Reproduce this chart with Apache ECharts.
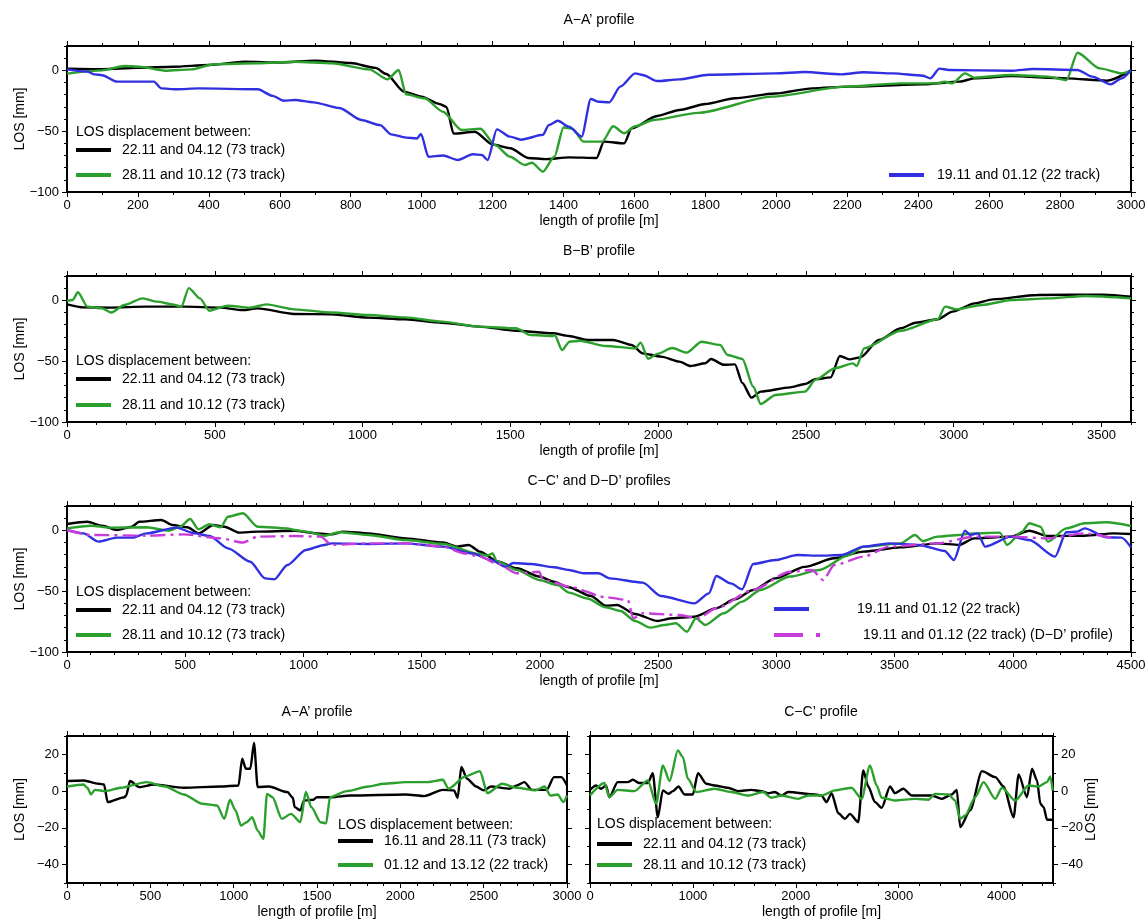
<!DOCTYPE html>
<html><head><meta charset="utf-8">
<script src="https://cdn.jsdelivr.net/npm/echarts@6/dist/echarts.min.js"></script>
<style>html,body{margin:0;padding:0;background:#fff}#c{width:1146px;height:922px}</style>
</head><body><div id="c"></div>
<script>
// ---------- tick labels ----------
const xTicksAA = [0,200,400,600,800,1000,1200,1400,1600,1800,2000,2200,2400,2600,2800,3000];
const xTicksBB = [0,500,1000,1500,2000,2500,3000,3500];
const xTicksCC = [0,500,1000,1500,2000,2500,3000,3500,4000,4500];
const xTicksAA2 = [0,500,1000,1500,2000,2500,3000];
const xTicksCC2 = [0,1000,2000,3000,4000];
const yTicksTop = [-100,-50,0];
const yTicksBot = [-40,-20,0,20];

// ---------- series names ----------
const N_BLACK = '22.11 and 04.12 (73 track)';
const N_GREEN = '28.11 and 10.12 (73 track)';
const N_BLUE = '19.11 and 01.12 (22 track)';
const N_MAG = '19.11 and 01.12 (22 track) (D\u2212D\u2019 profile)';
const N_BLACK4 = '16.11 and 28.11 (73 track)';
const N_GREEN4 = '01.12 and 13.12 (22 track)';

// ---------- A-A' profile ----------
const aaBlack = [[0,1.4],[100,1],[200,2],[300,3],[400,4.4],[500,7],[600,6.5],[700,8],[800,6],[870,2],[900,-3],[950,-17.5],[1000,-21.6],[1050,-27.7],[1070,-30],[1090,-52],[1150,-50.5],[1200,-61],[1250,-64],[1300,-72],[1350,-73],[1415,-71.5],[1493,-72],[1514,-58.6],[1571,-60],[1592,-47.7],[1664,-37.5],[1727,-32.6],[1800,-27.7],[1883,-23],[1997,-19],[2101,-14.8],[2205,-13.4],[2413,-11.5],[2517,-9.3],[2558,-6.6],[2662,-4.7],[2818,-6.6],[2932,-8.5],[3000,0]];
const aaGreen = [[0,-2.7],[99,0],[162,3.6],[204,3],[277,-0.3],[350,0.8],[413,5],[538,5.8],[643,7],[747,5.8],[852,0.8],[904,-7.4],[935,0.3],[956,-19.7],[1008,-23],[1060,-34],[1112,-49],[1166,-48],[1207,-61.4],[1249,-71],[1291,-77.8],[1311,-76],[1342,-83.3],[1374,-71],[1400,-47],[1425,-48],[1456,-58.6],[1509,-58.6],[1540,-46],[1571,-51.7],[1602,-46],[1654,-40.8],[1779,-35],[1987,-21.6],[2195,-13.4],[2350,-10.7],[2454,-10.7],[2475,-9.3],[2496,-10.7],[2532,-2.5],[2558,-6],[2662,-3.8],[2766,-5.2],[2818,-8],[2849,14.5],[2912,1.6],[2974,-2.5],[3000,-0.3]];
const aaBlue = [[0,0.8],[57,-1],[78,-3.3],[99,-4],[141,-9.3],[245,-9.3],[266,-14.8],[308,-15.6],[371,-14.8],[538,-15.6],[580,-21],[611,-25],[643,-24.4],[695,-26.3],[768,-31],[830,-40.8],[883,-45],[914,-52.6],[956,-55.3],[987,-56],[998,-52.3],[1019,-71],[1060,-70],[1102,-73.7],[1144,-69],[1170,-69.6],[1186,-73.7],[1212,-48.5],[1249,-54.5],[1280,-57],[1342,-53],[1358,-45],[1384,-41.4],[1415,-46.3],[1451,-54.5],[1477,-23.6],[1498,-25.8],[1529,-26.3],[1560,-13.4],[1602,-2.5],[1623,-3.8],[1664,-8.8],[1727,-7.4],[1810,-3.6],[1997,-2.5],[2080,-1.4],[2184,-3.3],[2247,-1.6],[2330,-2.5],[2413,-4.4],[2434,-6.6],[2460,1.4],[2486,0.3],[2662,-0.3],[2725,1.1],[2849,0.3],[2891,-5.2],[2943,-11.5],[2974,-6.6],[3000,0.3]];

// ---------- B-B' profile ----------
const bbBlack = [[0,-3.3],[56,-5.8],[144,-6],[269,-5.2],[394,-5.2],[519,-6],[594,-8],[644,-6.6],[769,-11.2],[894,-11.5],[1019,-14.2],[1144,-15.6],[1269,-18.4],[1394,-21.6],[1519,-25],[1644,-27],[1698,-29.3],[1760,-32.6],[1848,-32.6],[1910,-36.7],[1948,-43.6],[2010,-46.3],[2072,-50.4],[2110,-54],[2160,-51.7],[2179,-48.2],[2222,-53],[2260,-52.6],[2285,-68],[2316,-80],[2347,-75],[2447,-71.5],[2497,-68.8],[2534,-64.7],[2584,-63.3],[2615,-45.8],[2647,-48.5],[2684,-46.9],[2747,-32.6],[2821,-23],[2871,-18.4],[2946,-15.6],[2996,-9.3],[3071,-2.5],[3133,0.8],[3283,4.4],[3508,4.7],[3600,3]];
const bbGreen = [[0,-0.5],[19,0.3],[37,6.6],[69,-5.2],[119,-6.6],[150,-10],[194,-3.8],[256,1.6],[306,-1.1],[356,-3.3],[387,-5.2],[412,10],[450,1.6],[481,-8.5],[544,-4.4],[619,-6],[675,-3.3],[769,-7.4],[894,-10],[1019,-12],[1144,-14],[1269,-17.5],[1394,-21.6],[1519,-23],[1569,-28.5],[1644,-29.3],[1650,-28.5],[1675,-40.8],[1700,-34],[1735,-33.2],[1823,-37.5],[1923,-39.5],[1941,-34.8],[1966,-48],[1998,-44],[2047,-39.2],[2097,-43],[2147,-34],[2210,-36.7],[2235,-44.9],[2285,-48.2],[2322,-71],[2347,-85.2],[2397,-77.8],[2497,-75],[2534,-65],[2597,-56],[2659,-51.8],[2672,-54],[2697,-39.5],[2821,-25],[2946,-15.6],[2971,-5.2],[3009,-7.4],[3096,-3.8],[3196,0.3],[3321,1.6],[3446,3.6],[3600,1.6]];

// ---------- C-C' and D-D' profiles ----------
const ccBlack = [[0,5.2],[86,7],[149,3.8],[211,0.3],[274,3],[305,7],[399,8.5],[446,4.4],[509,2.5],[556,-2.5],[619,4.4],[666,3],[728,-1.9],[806,-1.1],[963,-0.3],[1057,-2.5],[1120,-3.3],[1167,-1.1],[1276,-2.5],[1433,-6.6],[1590,-10],[1652,-13.4],[1699,-12],[1746,-17.5],[1824,-25.8],[1903,-31.2],[1997,-38],[2059,-42.2],[2122,-46.8],[2216,-54],[2279,-62],[2326,-61.4],[2403,-68.8],[2497,-74.5],[2559,-72.3],[2653,-71],[2746,-64],[2824,-56.7],[2902,-49],[2995,-39.5],[3120,-30],[3245,-23],[3369,-17.5],[3525,-14],[3681,-10.7],[3774,-12],[3836,-6.6],[3992,-5.2],[4070,-0.3],[4148,-4.7],[4304,-4.4],[4428,-2.5],[4500,-3]];
const ccGreen = [[0,1.6],[102,3.8],[180,2.2],[337,2.5],[431,-0.3],[478,3],[521,9.3],[556,0.8],[603,5],[650,2.5],[681,11.2],[744,14],[806,3],[931,1.6],[963,0.3],[1010,-1.1],[1088,-4.4],[1151,-1.6],[1276,-3.8],[1433,-8],[1590,-11.2],[1746,-19.5],[1778,-20.8],[1800,-19],[1817,-25.2],[1903,-32.6],[1997,-40.8],[2075,-45],[2123,-51.2],[2201,-56],[2279,-63.3],[2341,-66.3],[2403,-74.5],[2466,-80],[2528,-77.8],[2575,-76.4],[2622,-83.3],[2660,-72.3],[2699,-77.8],[2777,-68.2],[2855,-58.6],[2933,-49],[3057,-38],[3182,-32.6],[3307,-20.3],[3369,-13.4],[3525,-10.7],[3587,-3.8],[3619,-8.8],[3681,-5.2],[3774,-3.8],[3836,-2.5],[3945,-1.9],[3976,-12],[4039,-1.1],[4070,5.8],[4117,3],[4148,-9.3],[4226,1.6],[4304,5.8],[4397,6.6],[4500,3.6]];
const ccBlue = [[0,0.3],[70,-2.5],[133,-9.3],[211,-6],[274,-6],[337,-2.5],[462,2.2],[540,-2.5],[603,-4.7],[681,-14.8],[775,-25.8],[838,-39.5],[877,-40.3],[932,-28.5],[1010,-16.2],[1088,-12],[1120,-10.7],[1276,-11.2],[1433,-10.7],[1590,-13.4],[1715,-19],[1793,-24.4],[1856,-30],[1887,-26.8],[1965,-27.7],[2059,-30.4],[2123,-32.6],[2185,-35.3],[2248,-35.3],[2295,-39.5],[2435,-43],[2512,-54],[2653,-60],[2715,-51.8],[2746,-37.5],[2808,-43.6],[2855,-48.5],[2902,-27.7],[2995,-24.4],[3089,-20.3],[3182,-20.8],[3276,-20.3],[3369,-13.4],[3478,-10.7],[3603,-12],[3712,-17],[3751,-24.4],[3798,-0.3],[3821,-3.8],[3852,-2.5],[3883,-13.4],[3992,-5.2],[4070,-8],[4179,-21.6],[4226,-1.6],[4273,-1.1],[4304,1.6],[4397,-5.8],[4460,-6],[4500,-14]];
const ddMagenta = [[0,0.3],[102,-3.8],[337,-4.4],[493,-3.3],[650,-6.6],[744,-10],[806,-5.2],[963,-4.7],[1073,-5.2],[1120,-12],[1276,-10.7],[1433,-10.7],[1590,-13.4],[1683,-19],[1746,-21.6],[1824,-27.7],[1903,-35.3],[1997,-34],[2012,-40.3],[2059,-43],[2123,-46.3],[2279,-55],[2372,-57.3],[2395,-72.3],[2435,-68.2],[2590,-69.6],[2668,-72.3],[2746,-64],[2902,-49],[3057,-34],[3151,-32.6],[3198,-40.8],[3245,-28.5],[3369,-21.6],[3478,-13.4],[3681,-10.7],[3836,-5.2],[3992,-5.2],[4148,-6.6],[4304,-2.5],[4428,-6.6]];

// ---------- bottom-left A-A' profile ----------
const a2Black = [[0,5.5],[100,5.8],[189,4],[222,3.6],[244,-6],[344,-3.3],[355,-2.4],[378,5.5],[433,2.2],[522,3.6],[700,1.8],[922,2.5],[1029,3.1],[1051,17.6],[1073,12.2],[1100,12.2],[1122,26.2],[1144,2.2],[1211,2.5],[1322,-0.5],[1355,-3.6],[1366,-8.7],[1400,-10.5],[1422,-5.1],[1478,-4.7],[1500,-3.3],[1589,-3.3],[1700,-2.4],[2033,-1.8],[2144,-2.7],[2255,0.7],[2322,0.4],[2344,-3.6],[2366,13.1],[2400,6.7],[2455,2.5],[2500,0.4],[2544,2.5],[2655,1.3],[2700,3.1],[2744,4.9],[2789,0.7],[2878,0.7],[2922,7.6],[2966,7.6],[3000,3.1]];
const a2Green = [[0,2.5],[100,3.6],[122,1.8],[144,-1.8],[167,0.7],[233,0],[322,1.8],[478,4.9],[589,2.5],[700,-1.8],[811,-6.9],[900,-7.8],[944,-15.1],[978,-4.7],[1011,-10.5],[1044,-18.7],[1078,-16.9],[1111,-14.2],[1144,-21.5],[1178,-26],[1200,-1.5],[1233,-3.3],[1289,-15.1],[1344,-12.4],[1400,-16.9],[1433,-0.5],[1466,-8.7],[1522,-16.9],[1555,-17.5],[1578,-3.3],[1678,0],[1811,2.5],[1900,4],[2033,4.9],[2167,4.9],[2255,6.2],[2289,1.3],[2389,8],[2478,10.9],[2522,-1.1],[2611,4],[2700,1.8],[2811,0.4],[2866,2.5],[2900,-2.4],[2944,-1.8],[2978,-6],[3000,-2.4]];

// ---------- bottom-right C-C' profile ----------
const c2Black = [[0,0.7],[58,3.1],[107,1.3],[156,3.1],[188,-3.3],[269,4.9],[367,4.9],[416,6.2],[481,4.4],[562,4.4],[610,9.8],[659,-14.2],[708,0.4],[763,-1.5],[805,0],[860,2.5],[919,-1.8],[1000,-1.8],[1049,9.8],[1130,4],[1211,3.1],[1341,1.8],[1438,0],[1568,0.7],[1666,0],[1731,-1.1],[1796,-0.5],[1861,-2.4],[1925,-0.5],[2185,-1.8],[2250,-2.4],[2299,-6],[2348,-1.1],[2413,-12],[2478,-15.1],[2526,-12.4],[2607,-16.9],[2656,11.3],[2705,2.5],[2770,-6],[2835,-9.1],[2916,2.5],[2964,-1.1],[3045,1.3],[3127,-2.4],[3322,-2.4],[3419,-4.2],[3516,-1.8],[3565,0.7],[3598,-19.6],[3695,-10.5],[3809,10.9],[3939,7.6],[4020,2.5],[4117,-14.2],[4166,9.1],[4247,-3.3],[4296,12.2],[4345,5.8],[4377,-6.9],[4409,-8.7],[4442,-15.6],[4490,-15.6]];
const c2Green = [[0,-2.4],[140,4.4],[188,-3.3],[269,0.7],[432,0],[562,5.8],[643,-6.9],[708,14],[773,5.5],[854,22.2],[903,18.5],[951,6.7],[1033,-0.5],[1211,1.3],[1373,-0.5],[1536,-2.4],[1682,-0.5],[1763,-3.6],[1861,-2.4],[2023,-4.2],[2120,-2.4],[2250,-2.4],[2380,0.4],[2478,1.3],[2542,1.8],[2640,-4.2],[2721,14],[2786,3.1],[2835,-3.6],[2964,-5.1],[3159,-4.2],[3289,-4.7],[3354,-1.5],[3484,-1.8],[3549,-5.1],[3598,-15.1],[3646,-13.3],[3744,-3.3],[3825,4.9],[3939,-4.2],[4004,1.8],[4133,-5.1],[4263,3.1],[4360,2.5],[4442,4.9],[4474,8],[4497,0.4]];

// ---------- styling ----------
const FONT = '"Liberation Sans", Arial, Helvetica, sans-serif';
const BLACK = '#000000', GREEN = '#2ca02c', BLUE = '#3030e0', MAG = '#c83cdc';

const panels = [
  {left:67, top:46, width:1064, height:146, xmax:3000, xTicks:xTicksAA, xMinor:100, ymin:-100, ymax:20, yTicks:yTicksTop, side:'left'},
  {left:67, top:276, width:1064, height:146, xmax:3600, xTicks:xTicksBB, xMinor:100, ymin:-100, ymax:20, yTicks:yTicksTop, side:'left'},
  {left:67, top:506, width:1064, height:146, xmax:4500, xTicks:xTicksCC, xMinor:100, ymin:-100, ymax:20, yTicks:yTicksTop, side:'left'},
  {left:67, top:736, width:500, height:147, xmax:3000, xTicks:xTicksAA2, xMinor:100, ymin:-50, ymax:30, yTicks:yTicksBot, side:'left'},
  {left:590, top:736, width:463, height:147, xmax:4500, xTicks:xTicksCC2, xMinor:200, ymin:-50, ymax:30, yTicks:yTicksBot, side:'right'}
];

const fmt = v => (v < 0 ? '\u2212' + Math.abs(v) : String(v));
const grids = [], xAxes = [], yAxes = [];
const lineAx = {show:true, onZero:false, lineStyle:{color:'#000', width:2}};
const noLine = {show:false, onZero:false};
const minorTick = {show:true, inside:false, length:3, lineStyle:{color:'#000', width:1}};
panels.forEach((p, i) => {
  grids.push({left:p.left, top:p.top, width:p.width, height:p.height, containLabel:false, outerBoundsMode:'none'});
  const xb = {type:'value', gridIndex:i, min:0, max:p.xmax, splitLine:{show:false}};
  const majX = {show:true, inside:false, length:5, customValues:p.xTicks, lineStyle:{color:'#000', width:1}};
  xAxes.push(Object.assign({}, xb, {position:'bottom', axisLine:lineAx, axisTick:majX,
    axisLabel:{show:true, customValues:p.xTicks, formatter:fmt, fontSize:13, fontFamily:FONT, color:'#000', margin:7},
    name:'length of profile [m]', nameLocation:'middle', nameGap:22, nameMoveOverlap:false,
    nameTextStyle:{fontSize:14, fontFamily:FONT, color:'#000'}}));
  xAxes.push(Object.assign({}, xb, {position:'bottom', interval:p.xMinor, axisLine:noLine, axisTick:minorTick, axisLabel:{show:false}}));
  xAxes.push(Object.assign({}, xb, {position:'top', axisLine:lineAx, axisTick:majX, axisLabel:{show:false}}));
  xAxes.push(Object.assign({}, xb, {position:'top', interval:p.xMinor, axisLine:noLine, axisTick:minorTick, axisLabel:{show:false}}));
  const other = p.side === 'left' ? 'right' : 'left';
  const yb = {type:'value', gridIndex:i, min:p.ymin, max:p.ymax, splitLine:{show:false}};
  const majY = {show:true, inside:false, length:5, customValues:p.yTicks, lineStyle:{color:'#000', width:1}};
  yAxes.push(Object.assign({}, yb, {position:p.side, axisLine:lineAx, axisTick:majY,
    axisLabel:{show:true, customValues:p.yTicks, formatter:fmt, fontSize:13, fontFamily:FONT, color:'#000', margin:8},
    name:'LOS [mm]', nameLocation:'middle', nameRotate:90, nameGap: p.side === 'left' ? 40 : 31, nameMoveOverlap:false,
    nameTextStyle:{fontSize:14, fontFamily:FONT, color:'#000'}}));
  yAxes.push(Object.assign({}, yb, {position:p.side, interval:10, axisLine:noLine, axisTick:minorTick, axisLabel:{show:false}}));
  yAxes.push(Object.assign({}, yb, {position:other, axisLine:lineAx, axisTick:majY, axisLabel:{show:false}}));
  yAxes.push(Object.assign({}, yb, {position:other, interval:10, axisLine:noLine, axisTick:minorTick, axisLabel:{show:false}}));
});

function line(name, data, color, panel, dash) {
  return {type:'line', name, data, xAxisIndex:panel*4, yAxisIndex:panel*4, color,
    showSymbol:false, symbol:'none', smooth:0.25, smoothMonotone:'x', silent:true, animation:false,
    lineStyle:{color, width:2.4, type: dash || 'solid'}, itemStyle:{color}};
}
const series = [
  line(N_BLACK, aaBlack, BLACK, 0), line(N_GREEN, aaGreen, GREEN, 0), line(N_BLUE, aaBlue, BLUE, 0),
  line(N_BLACK, bbBlack, BLACK, 1), line(N_GREEN, bbGreen, GREEN, 1),
  line(N_BLACK, ccBlack, BLACK, 2), line(N_GREEN, ccGreen, GREEN, 2), line(N_BLUE, ccBlue, BLUE, 2),
  line(N_MAG, ddMagenta, MAG, 2, [15,5,3,5]),
  line(N_BLACK4, a2Black, BLACK, 3), line(N_GREEN4, a2Green, GREEN, 3),
  line(N_BLACK, c2Black, BLACK, 4), line(N_GREEN, c2Green, GREEN, 4)
];

function leg(name, x, cy, gap, icon, w) {
  return {data:[{name, icon: icon || 'rect'}], left:x, top:cy - 8, orient:'horizontal',
    itemWidth: w || 35, itemHeight:4, padding:0, selectedMode:false, itemStyle:{borderWidth:0},
    textStyle:{fontSize:14, fontFamily:FONT, color:'#000', padding:[0,0,0,gap]}};
}
const MAG_ICON = 'path://M0,0H29V4H0Z M42,0H46V4H42Z';
const legends = [
  leg(N_BLACK, 76, 151, 6), leg(N_GREEN, 76, 176, 6), leg(N_BLUE, 889, 176, 8),
  leg(N_BLACK, 76, 380, 6), leg(N_GREEN, 76, 406, 6),
  leg(N_BLACK, 76, 611, 6), leg(N_GREEN, 76, 636, 6),
  leg(N_BLUE, 774, 610, 43), leg(N_MAG, 774, 636, 38, MAG_ICON, 46),
  leg(N_BLACK4, 338, 842, 6), leg(N_GREEN4, 338, 866, 6),
  leg(N_BLACK, 597, 845, 6), leg(N_GREEN, 597, 866, 6)
];

function txt(text, x, y, align) {
  return {type:'text', x, y, silent:true, style:{text, fill:'#000', font:'14px ' + FONT,
    align: align || 'center', verticalAlign:'middle', textAlign: align || 'center', textVerticalAlign:'middle'}};
}
const HEADER = 'LOS displacement between:';
const graphics = [
  txt('A\u2212A\u2019 profile', 599, 20), txt('B\u2212B\u2019 profile', 599, 251),
  txt('C\u2212C\u2019 and D\u2212D\u2019 profiles', 599, 481),
  txt('A\u2212A\u2019 profile', 317, 712), txt('C\u2212C\u2019 profile', 821, 712),
  txt(HEADER, 76, 132, 'left'), txt(HEADER, 76, 361, 'left'), txt(HEADER, 76, 592, 'left'),
  txt(HEADER, 338, 825, 'left'), txt(HEADER, 597, 824, 'left')
];

const chart = echarts.init(document.getElementById('c'), null, {renderer:'canvas'});
chart.setOption({
  backgroundColor:'#ffffff', animation:false,
  grid:grids, xAxis:xAxes, yAxis:yAxes, series, legend:legends, graphic:graphics,
  tooltip:{show:false}
});
</script></body></html>
